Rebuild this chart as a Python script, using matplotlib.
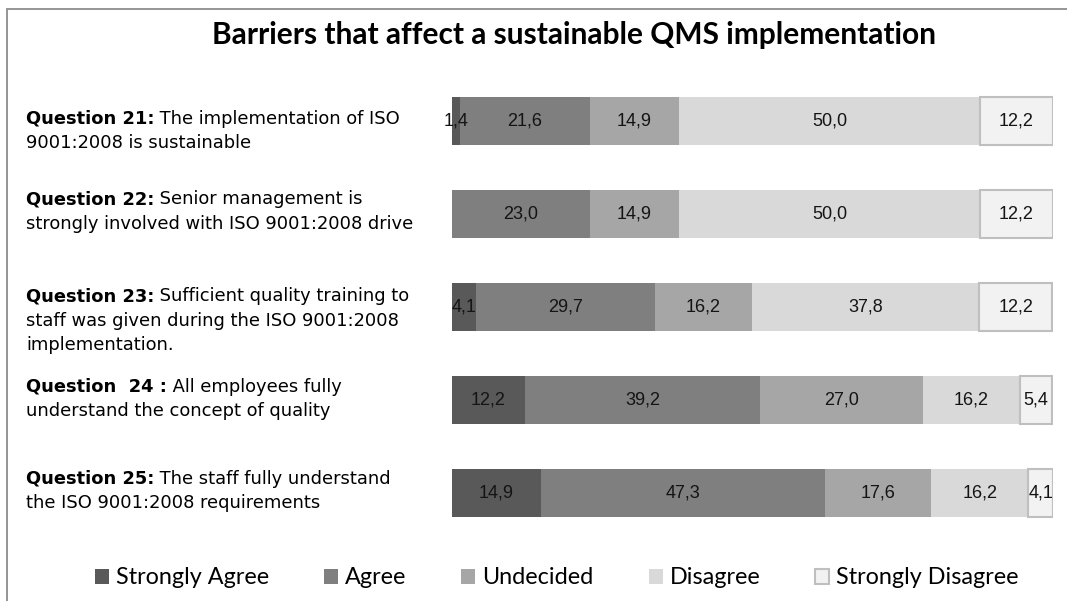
import numpy as np
from matplotlib import pyplot as plt
from matplotlib.patches import Rectangle

questions = ['Question 21:', 'Question 22:', 'Question 23:', 'Question  24 :', 'Question 25:']
statements = [
    ['The implementation of ISO', '9001:2008 is sustainable'],
    ['Senior management is', 'strongly involved with ISO 9001:2008 drive'],
    ['Sufficient quality training to', 'staff was given during the ISO 9001:2008', 'implementation.'],
    ['All employees fully', 'understand the concept of quality'],
    ['The staff fully understand', 'the ISO 9001:2008 requirements'],
]
responses = ['Strongly Agree', 'Agree', 'Undecided', 'Disagree', 'Strongly Disagree']
strongly_agree = [1.4, 0.0, 4.1, 12.2, 14.9]
agree = [21.6, 23.0, 29.7, 39.2, 47.3]
undecided = [14.9, 14.9, 16.2, 27.0, 17.6]
disagree = [50.0, 50.0, 37.8, 16.2, 16.2]
strongly_disagree = [12.2, 12.2, 12.2, 5.4, 4.1]

colors = ['#595959', '#7f7f7f', '#a6a6a6', '#d9d9d9', '#f2f2f2']
W, H = 1067, 601

fig = plt.figure(figsize=(W / 100, H / 100), dpi=100)
# left and top of the chart frame (the rest is cut off in the original)
fig.patches.append(Rectangle((6.5 / W, -0.1), 1.2, 1 - 9 / H + 0.1, transform=fig.transFigure,
                             fill=False, edgecolor='#8c8c8c', linewidth=1.3))

ax = fig.add_axes([451.5 / W, 1 - 539 / H, 601.5 / W, 464.4 / H])
y = np.arange(len(questions))
series = [strongly_agree, agree, undecided, disagree, strongly_disagree]
left = np.zeros(len(questions))
for name, vals, c in zip(responses, series, colors):
    vals = np.array(vals)
    ec = '#bfbfbf' if name == 'Strongly Disagree' else 'none'
    lw = 1.5 if name == 'Strongly Disagree' else 0
    bars = ax.barh(y, vals, left=left, height=0.517, color=c, edgecolor=ec, linewidth=lw, label=name)
    for b, v in zip(bars, vals):
        if v > 0:
            ax.text(b.get_x() + b.get_width() / 2, b.get_y() + b.get_height() / 2,
                    f'{v:.1f}'.replace('.', ','), ha='center', va='center',
                    fontsize=13, family='Liberation Sans', color='#141414')
    left += vals

ax.set_xlim(0, 100.1)
ax.set_ylim(len(questions) - 0.5, -0.5)
ax.axis('off')

fig.text(574 / W, 1 - 35 / H, 'Barriers that affect a sustainable QMS implementation',
         ha='center', va='center', fontsize=21.5, fontweight='bold', family='Lato')

# question labels: bold prefix, then the rest in normal weight
line_h = 24.5
block_shift = [10, -2.5, 14, -0.5, -1.5]
for i, (q, lines) in enumerate(zip(questions, statements)):
    row_px = 539 - 464.4 * (len(questions) - i - 0.5) / len(questions)
    first = row_px + block_shift[i] - line_h * (len(lines) - 1) / 2
    t = fig.text(26 / W, 1 - first / H, q, ha='left', va='center', fontsize=12.9,
                 fontweight='bold', family='DejaVu Sans')
    ax.annotate(' ' + lines[0], xy=(1, 0), xycoords=t, ha='left', va='bottom',
                fontsize=12.9, family='DejaVu Sans')
    for k, ln in enumerate(lines[1:], start=1):
        fig.text(26 / W, 1 - (first + k * line_h) / H, ln, ha='left', va='center',
                 fontsize=12.9, family='DejaVu Sans')

leg = fig.legend(loc='center', bbox_to_anchor=(557 / W, 1 - 578 / H), ncol=5, frameon=False,
                 prop={'family': 'Lato', 'size': 16.8}, handlelength=0.6, handleheight=0.6,
                 handletextpad=0.3, columnspacing=2.35)

plt.savefig('out.png', dpi=100)
